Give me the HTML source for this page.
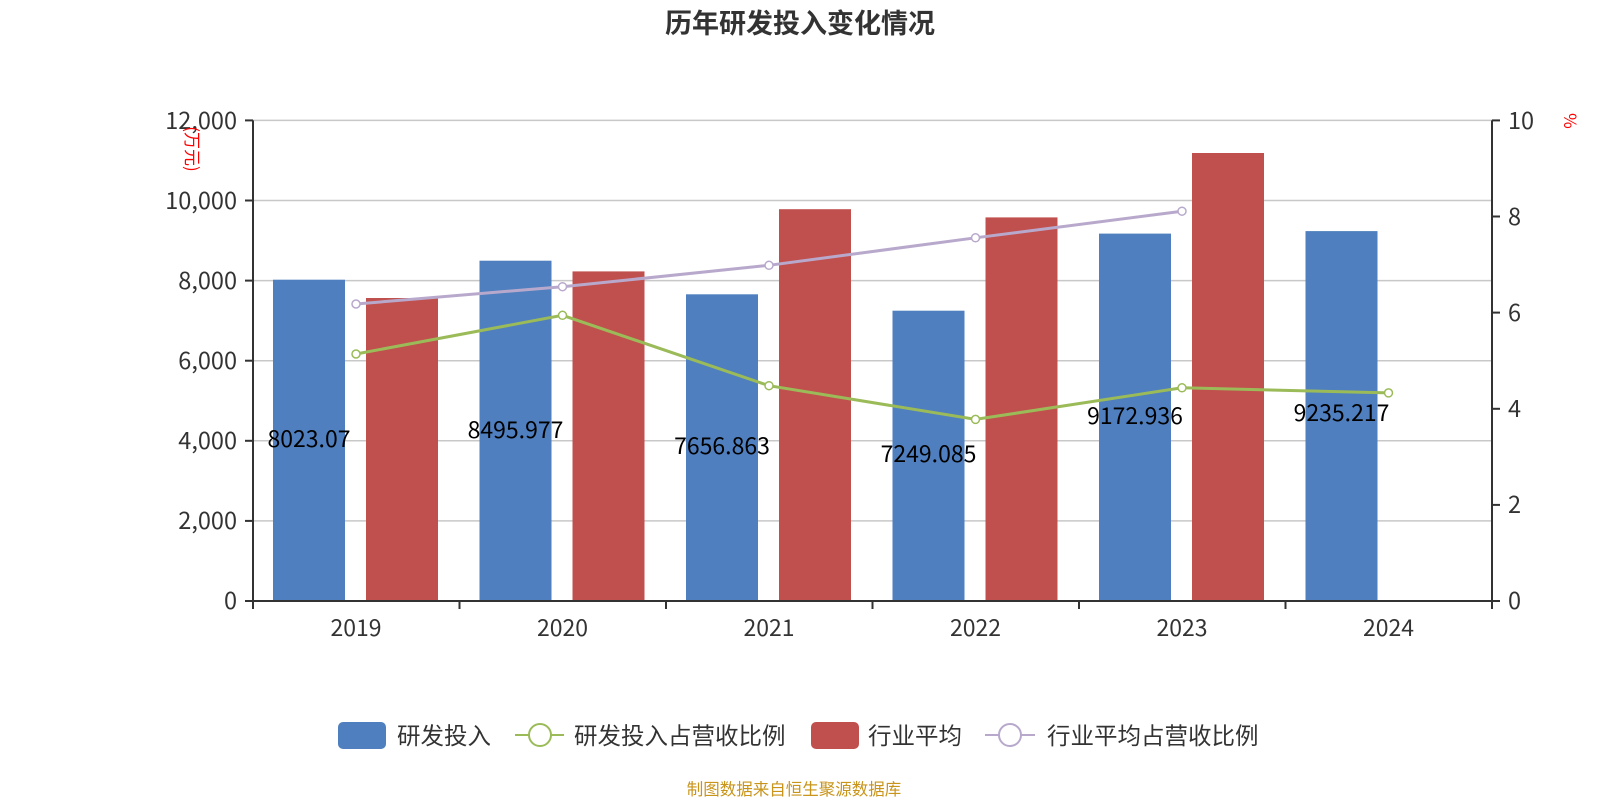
<!DOCTYPE html>
<html><head><meta charset="utf-8"><style>
html,body{margin:0;padding:0;background:#fff;}
svg{display:block;font-family:"Noto Sans CJK SC","Liberation Sans",sans-serif;}
</style></head><body>
<svg width="1600" height="800" viewBox="0 0 1600 800" xmlns="http://www.w3.org/2000/svg">
<text x="800" y="33" text-anchor="middle" font-size="27" font-weight="bold" fill="#333">历年研发投入变化情况</text>
<g stroke="#c8c8c8" stroke-width="1.5">
<line x1="253" x2="1492" y1="120.4" y2="120.4"/>
<line x1="253" x2="1492" y1="200.5" y2="200.5"/>
<line x1="253" x2="1492" y1="280.6" y2="280.6"/>
<line x1="253" x2="1492" y1="360.7" y2="360.7"/>
<line x1="253" x2="1492" y1="440.8" y2="440.8"/>
<line x1="253" x2="1492" y1="520.9" y2="520.9"/>
</g>
<g fill="#4f7fbe">
<rect x="273" y="279.7" width="72" height="321.3"/>
<rect x="479.5" y="260.7" width="72" height="340.3"/>
<rect x="686" y="294.3" width="72" height="306.7"/>
<rect x="892.5" y="310.7" width="72" height="290.3"/>
<rect x="1099" y="233.6" width="72" height="367.4"/>
<rect x="1305.5" y="231.1" width="72" height="369.9"/>
</g>
<g fill="#c0504d">
<rect x="366" y="298" width="72" height="303"/>
<rect x="572.5" y="271.4" width="72" height="329.6"/>
<rect x="779" y="209.2" width="72" height="391.8"/>
<rect x="985.5" y="217.4" width="72" height="383.6"/>
<rect x="1192" y="153" width="72" height="448"/>
</g>
<g stroke="#333" stroke-width="2">
<line x1="253" x2="253" y1="120.4" y2="601"/>
<line x1="1492" x2="1492" y1="120.4" y2="601"/>
<line x1="253" x2="1492" y1="601" y2="601"/>
<line x1="245" x2="253" y1="120.4" y2="120.4"/><line x1="245" x2="253" y1="200.5" y2="200.5"/><line x1="245" x2="253" y1="280.6" y2="280.6"/><line x1="245" x2="253" y1="360.7" y2="360.7"/><line x1="245" x2="253" y1="440.8" y2="440.8"/><line x1="245" x2="253" y1="520.9" y2="520.9"/><line x1="245" x2="253" y1="601" y2="601"/>
<line x1="1492" x2="1500" y1="120.4" y2="120.4"/><line x1="1492" x2="1500" y1="216.5" y2="216.5"/><line x1="1492" x2="1500" y1="312.6" y2="312.6"/><line x1="1492" x2="1500" y1="408.8" y2="408.8"/><line x1="1492" x2="1500" y1="504.9" y2="504.9"/><line x1="1492" x2="1500" y1="601" y2="601"/>
<line x1="253" x2="253" y1="601" y2="609"/><line x1="459.5" x2="459.5" y1="601" y2="609"/><line x1="666" x2="666" y1="601" y2="609"/><line x1="872.5" x2="872.5" y1="601" y2="609"/><line x1="1079" x2="1079" y1="601" y2="609"/><line x1="1285.5" x2="1285.5" y1="601" y2="609"/><line x1="1492" x2="1492" y1="601" y2="609"/>
</g>
<g font-size="23.5" fill="#333" text-anchor="end">
<text x="237" y="129">12,000</text><text x="237" y="209">10,000</text><text x="237" y="289">8,000</text><text x="237" y="369">6,000</text><text x="237" y="449">4,000</text><text x="237" y="529">2,000</text><text x="237" y="609">0</text>
</g>
<g font-size="23.5" fill="#333">
<text x="1508" y="129">10</text><text x="1508" y="225">8</text><text x="1508" y="321">6</text><text x="1508" y="417">4</text><text x="1508" y="513">2</text><text x="1508" y="609">0</text>
</g>
<g font-size="23" fill="#333" text-anchor="middle">
<text x="356" y="636">2019</text><text x="562.5" y="636">2020</text><text x="769" y="636">2021</text><text x="975.5" y="636">2022</text><text x="1182" y="636">2023</text><text x="1388.5" y="636">2024</text>
</g>
<text transform="translate(186,149) rotate(90)" font-size="17" fill="#f00" text-anchor="middle">(万元)</text>
<text transform="translate(1564,121) rotate(90)" font-size="17" fill="#f00" text-anchor="middle">%</text>
<polyline points="356,304 562.5,286.7 769,265.3 975.5,237.8 1182,211.2" fill="none" stroke="#b8a9cc" stroke-width="3"/>
<g fill="#fff" stroke="#b8a9cc" stroke-width="1.5">
<circle cx="356" cy="304" r="4"/><circle cx="562.5" cy="286.7" r="4"/><circle cx="769" cy="265.3" r="4"/><circle cx="975.5" cy="237.8" r="4"/><circle cx="1182" cy="211.2" r="4"/>
</g>
<polyline points="356,354 562.5,315.3 769,385.7 975.5,419.4 1182,387.8 1388.5,392.9" fill="none" stroke="#9bbb59" stroke-width="3"/>
<g fill="#fff" stroke="#9bbb59" stroke-width="1.5">
<circle cx="356" cy="354" r="4"/><circle cx="562.5" cy="315.3" r="4"/><circle cx="769" cy="385.7" r="4"/><circle cx="975.5" cy="419.4" r="4"/><circle cx="1182" cy="387.8" r="4"/><circle cx="1388.5" cy="392.9" r="4"/>
</g>
<g font-size="23" fill="#000" text-anchor="middle">
<text x="309" y="447">8023.07</text>
<text x="515.5" y="438">8495.977</text>
<text x="722" y="454">7656.863</text>
<text x="928.5" y="462">7249.085</text>
<text x="1135" y="424">9172.936</text>
<text x="1341.5" y="421">9235.217</text>
</g>
<rect x="338" y="722" width="48" height="27" rx="5" fill="#4f7fbe"/>
<text x="397" y="744" font-size="23.5" fill="#333">研发投入</text>
<line x1="515" x2="564" y1="735" y2="735" stroke="#9bbb59" stroke-width="2"/>
<circle cx="540" cy="735" r="11" fill="#fff" stroke="#9bbb59" stroke-width="2"/>
<text x="574" y="744" font-size="23.5" fill="#333">研发投入占营收比例</text>
<rect x="811" y="722" width="48" height="27" rx="5" fill="#c0504d"/>
<text x="868" y="744" font-size="23.5" fill="#333">行业平均</text>
<line x1="985" x2="1035" y1="735" y2="735" stroke="#b8a9cc" stroke-width="2"/>
<circle cx="1010" cy="735" r="11" fill="#fff" stroke="#b8a9cc" stroke-width="2"/>
<text x="1047" y="744" font-size="23.5" fill="#333">行业平均占营收比例</text>
<text x="794" y="795" font-size="16.5" fill="#c8941a" text-anchor="middle">制图数据来自恒生聚源数据库</text>
</svg>
</body></html>
